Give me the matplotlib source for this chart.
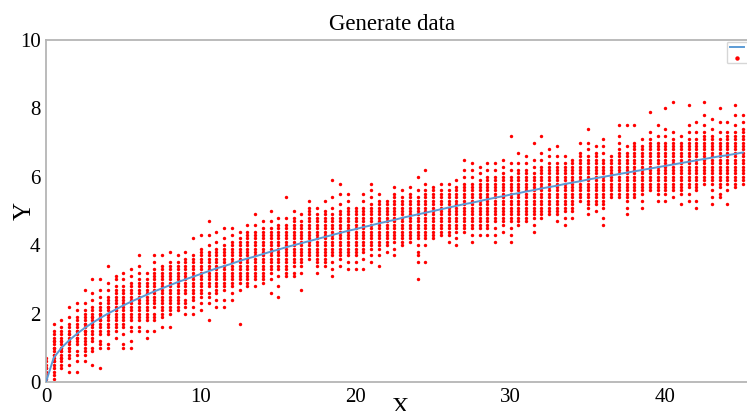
import numpy as np
import matplotlib
matplotlib.use("Agg")
import matplotlib.pyplot as plt

plt.rcParams['font.family'] = ['Liberation Serif', 'DejaVu Serif']

# x positions of the sample columns (every 0.5 from 0 to 45)
col_x = np.arange(0, 45.5, 0.5)

# y samples per column, in tenths, one string per column
cols_0_10 = [
    "1 2 3 4 5 6 7 2 4",
    "1 2 4 5 6 7 8 9 10 11 12 13 14 15 17 3 6 8 10 12",
    "4 5 6 7 8 9 10 11 12 13 14 15 16 18 7 9 10 12",
    "3 5 7 8 9 10 11 12 13 14 15 16 17 19 22 10 12 14",
    "3 6 8 9 11 12 13 14 15 16 17 18 19 21 23 13 15",
    "6 8 9 10 11 12 13 14 15 16 17 18 19 20 21 23 27 15 17",
    "5 9 10 12 13 14 15 16 17 18 19 20 21 22 24 26 30 17 19",
    "4 10 11 12 14 15 16 17 18 19 20 21 22 23 25 27 30 18 20",
    "10 11 14 15 16 17 18 19 20 21 22 23 24 25 27 29 34 20 22",
    "13 15 16 17 18 19 20 21 22 23 24 25 26 27 28 30 31 21",
    "10 11 14 16 17 18 19 20 21 22 23 24 25 26 27 28 30 32",
    "10 12 15 16 18 19 20 21 22 23 24 25 26 27 28 29 31 33",
    "15 16 18 19 20 21 22 23 24 25 26 27 28 29 30 32 34 37",
    "13 15 18 19 20 21 22 23 24 25 26 27 28 29 30 32",
    "15 18 19 20 22 23 24 25 26 27 28 29 30 31 32 33 35 37",
    "16 19 20 21 22 23 24 25 26 27 28 29 30 31 32 33 34 37",
    "16 20 21 22 23 24 25 26 27 28 29 30 31 32 33 34 35 38",
    "21 22 23 24 25 26 27 28 29 30 31 32 33 34 35 37",
    "20 22 23 24 26 27 28 29 30 31 32 33 34 35 36 38",
    "20 22 24 25 26 27 28 29 30 31 32 33 34 35 36 37 42",
]
cols_10_20 = [
    "21 23 25 26 27 28 29 30 31 32 33 34 35 36 37 38 39 43",
    "18 23 25 26 28 29 30 31 32 33 34 35 36 37 38 40 43 47",
    "22 24 26 27 28 29 30 31 32 33 34 35 36 37 38 39 41 44",
    "22 24 27 28 29 30 31 32 33 34 35 36 37 38 39 40 42 45",
    "24 26 28 29 30 31 32 33 34 35 36 37 38 39 40 41 43 45",
    "17 27 29 30 31 32 33 34 35 36 37 38 39 40 41 42 44",
    "28 29 30 31 32 33 34 35 36 37 38 39 40 41 42 43 44 46",
    "28 30 31 32 33 34 35 36 37 38 39 40 41 42 43 44 46 49",
    "29 30 31 32 33 34 35 36 37 38 39 40 41 42 43 44 45 47",
    "26 30 32 33 34 35 36 37 38 39 40 41 42 43 44 45 47 50",
    "25 28 31 33 34 35 36 37 38 39 40 41 42 43 44 45 46 48",
    "31 32 33 34 35 36 37 38 39 40 41 42 43 44 45 46 48 54",
    "31 32 34 35 36 37 38 39 40 41 42 43 44 45 46 47 48 50",
    "27 32 34 35 36 37 38 39 40 41 42 43 44 45 46 47 49",
    "36 37 38 39 40 41 42 43 44 45 46 47 48 49 50 51 53",
    "32 34 35 36 37 38 39 40 41 42 43 44 45 46 47 48 49 51",
    "34 35 36 37 38 39 40 41 42 43 44 45 46 47 48 49 50 53",
    "31 33 35 37 38 39 40 41 42 43 44 45 46 47 48 49 51 54 59",
    "34 36 37 38 39 40 41 42 43 44 45 46 47 48 49 50 52 55 58",
    "33 35 37 38 39 40 41 42 43 44 45 46 47 48 49 50 51 53 55",
]
cols_20_30 = [
    "33 35 37 38 39 40 41 42 43 44 45 46 47 48 49 50 51",
    "33 36 38 39 40 41 42 43 44 45 46 47 48 49 50 51 53 55",
    "35 37 39 40 41 42 43 44 45 46 47 48 49 50 51 52 54 56 58",
    "34 37 39 40 41 42 43 44 45 46 47 48 49 50 51 52 53 55",
    "38 40 41 42 43 44 45 46 47 48 49 50 51 52 53",
    "37 39 41 42 43 44 45 46 47 48 49 50 51 52 53 54 55 57",
    "40 41 42 43 44 45 46 47 48 49 50 51 52 53 54 56",
    "41 42 43 44 45 46 47 48 49 50 51 52 53 54 55 57",
    "30 35 37 38 40 42 43 44 45 46 47 48 49 50 51 52 53 54 56 60",
    "35 40 42 43 44 45 46 47 48 49 50 51 52 53 54 55 56 58 62",
    "42 43 44 45 46 47 48 49 50 51 52 53 54 55 56 57",
    "43 44 45 46 47 48 49 50 51 52 53 54 55 56 58",
    "41 43 44 45 46 47 48 49 50 51 52 53 54 55 56 58",
    "40 42 44 45 46 47 48 49 50 51 52 53 54 55 56 57 59",
    "44 45 46 47 48 49 50 51 52 53 54 55 56 57 58 60 62 65",
    "41 43 45 46 47 48 49 50 51 52 53 54 55 56 57 58 60 62 64",
    "43 45 46 47 48 49 50 51 52 53 54 55 56 57 58 59 61 63",
    "43 45 46 47 48 49 50 51 52 53 54 55 56 57 58 59 60 62 64",
    "41 43 45 47 48 49 50 51 52 53 54 55 56 57 58 59 60 62 64",
    "44 46 47 48 49 50 51 52 53 54 55 56 57 58 59 60 61 63 65",
]
cols_30_40 = [
    "41 43 45 47 48 49 50 51 52 53 54 55 56 57 58 59 60 62 64 72",
    "46 47 48 49 50 51 52 53 54 55 56 57 58 59 60 61 62 64 67",
    "47 48 49 50 51 52 53 54 55 56 57 58 59 60 61 62 64 66",
    "44 46 48 49 50 51 52 53 54 55 56 57 58 59 60 61 63 65 70",
    "48 49 50 51 52 53 54 55 56 57 58 59 60 61 62 63 65 67 72",
    "49 50 51 52 53 54 55 56 57 58 59 60 61 62 63 64 66 68",
    "47 49 50 51 52 53 54 55 56 57 58 59 60 61 62 63 64 66 69",
    "46 48 50 51 52 53 54 55 56 57 58 59 60 61 62 63 64 66",
    "48 50 51 52 53 54 55 56 57 58 59 60 61 62 63 64 65",
    "53 54 55 56 57 58 59 60 61 62 63 64 65 66 67 70",
    "49 51 52 53 54 55 56 57 58 59 60 61 62 63 64 65 66 68 70 74",
    "50 52 53 54 55 56 57 58 59 60 61 62 63 64 65 66 67 69",
    "46 48 51 52 53 54 55 56 57 58 59 60 61 62 63 64 65 67 69 71",
    "54 55 56 57 58 59 60 61 62 63 64 65 66",
    "54 55 56 57 58 59 60 61 62 63 64 65 66 67 68 70 72 75",
    "49 51 53 54 55 56 57 58 59 60 61 62 63 64 65 66 67 69 75",
    "54 55 56 57 58 59 60 61 62 63 64 65 66 67 68 69 70 75",
    "51 53 55 56 57 58 59 60 61 62 63 64 65 66 67 68 69 71",
    "56 57 58 59 60 61 62 63 64 65 66 67 68 69 70 71 73 79",
    "53 55 56 57 58 59 60 61 62 63 64 65 66 67 68 69 70 72 75",
]
cols_40_45 = [
    "53 55 56 57 58 59 60 61 62 63 64 65 66 67 68 69 70 72 74 80",
    "54 56 57 58 59 60 61 62 63 64 65 66 67 68 69 70 71 73 82",
    "52 55 56 57 58 59 60 61 62 63 64 65 66 67 68 69 70 72",
    "53 55 57 58 59 60 61 62 63 64 65 66 67 68 69 70 71 73 75 81",
    "51 53 56 57 58 59 60 61 62 63 64 65 66 67 68 69 70 71 73 76",
    "58 59 60 61 62 63 64 65 66 67 68 69 70 71 72 73 75 78 82",
    "52 54 56 58 59 60 61 62 63 64 65 66 67 68 69 70 71 72 74 77",
    "54 55 57 58 59 60 61 62 63 64 65 66 67 68 69 70 71 73 76 80",
    "52 56 58 59 60 61 62 63 64 65 66 67 68 69 70 71 72 73 76",
    "57 58 59 60 61 62 63 64 65 66 67 68 69 70 71 72 73 75 78 81",
    "58 59 60 61 62 63 64 65 66 67 68 69 70 71 72 73 74 76 78",
]

# reference curve values at each column
curve_y = [
    0.00, 0.71, 1.00, 1.22, 1.41, 1.58, 1.73, 1.87, 2.00, 2.12,
    2.24, 2.35, 2.45, 2.55, 2.65, 2.74, 2.83, 2.92, 3.00, 3.08,
    3.16, 3.24, 3.32, 3.39, 3.46, 3.54, 3.61, 3.67, 3.74, 3.81,
    3.87, 3.94, 4.00, 4.06, 4.12, 4.18, 4.24, 4.30, 4.36, 4.42,
    4.47, 4.53, 4.58, 4.64, 4.69, 4.74, 4.80, 4.85, 4.90, 4.95,
    5.00, 5.05, 5.10, 5.15, 5.20, 5.24, 5.29, 5.34, 5.39, 5.43,
    5.48, 5.52, 5.57, 5.61, 5.66, 5.70, 5.74, 5.79, 5.83, 5.87,
    5.92, 5.96, 6.00, 6.04, 6.08, 6.12, 6.16, 6.20, 6.24, 6.28,
    6.32, 6.36, 6.40, 6.44, 6.48, 6.52, 6.56, 6.60, 6.63, 6.67,
    6.71,
]

all_cols = cols_0_10 + cols_10_20 + cols_20_30 + cols_30_40 + cols_40_45
pts_x, pts_y = [], []
for cx, s in zip(col_x, all_cols):
    vals = [int(v) / 10 for v in s.split()]
    pts_x += [cx] * len(vals)
    pts_y += vals

fig = plt.figure(figsize=(7.47, 4.11), dpi=100)
ax = fig.add_axes([46 / 747, 1 - 382 / 411, 720 / 747, 342 / 411])

ax.plot(col_x, curve_y, color='#5b9bd5', lw=1.4, label='y = sqrt(x)', zorder=3)
ax.scatter(pts_x, pts_y, s=6, color='red', lw=0, label='data', zorder=2)

ax.set_xlim(0, 46.5)
ax.set_ylim(0, 10)
ax.set_xticks([0, 10, 20, 30, 40])
ax.set_yticks([0, 2, 4, 6, 8, 10])
ax.tick_params(length=0, labelsize=15, pad=4)
for sp in ax.spines.values():
    sp.set_color('#b5b5b5')
    sp.set_linewidth(1.3)

ax.set_title('Generate data', fontsize=16.5, pad=7, x=0.48)
ax.set_xlabel('X', fontsize=17)
ax.xaxis.set_label_coords(0.492, -0.045)
ax.set_ylabel('Y', fontsize=18)
ax.yaxis.set_label_coords(-0.014, 0.5)

ax.legend(loc='upper left', bbox_to_anchor=(727 / 747, 1 - 42 / 411),
          bbox_transform=fig.transFigure, fontsize=5, frameon=True,
          borderaxespad=0, markerscale=1.3)

fig.savefig('out.png', dpi=100)
